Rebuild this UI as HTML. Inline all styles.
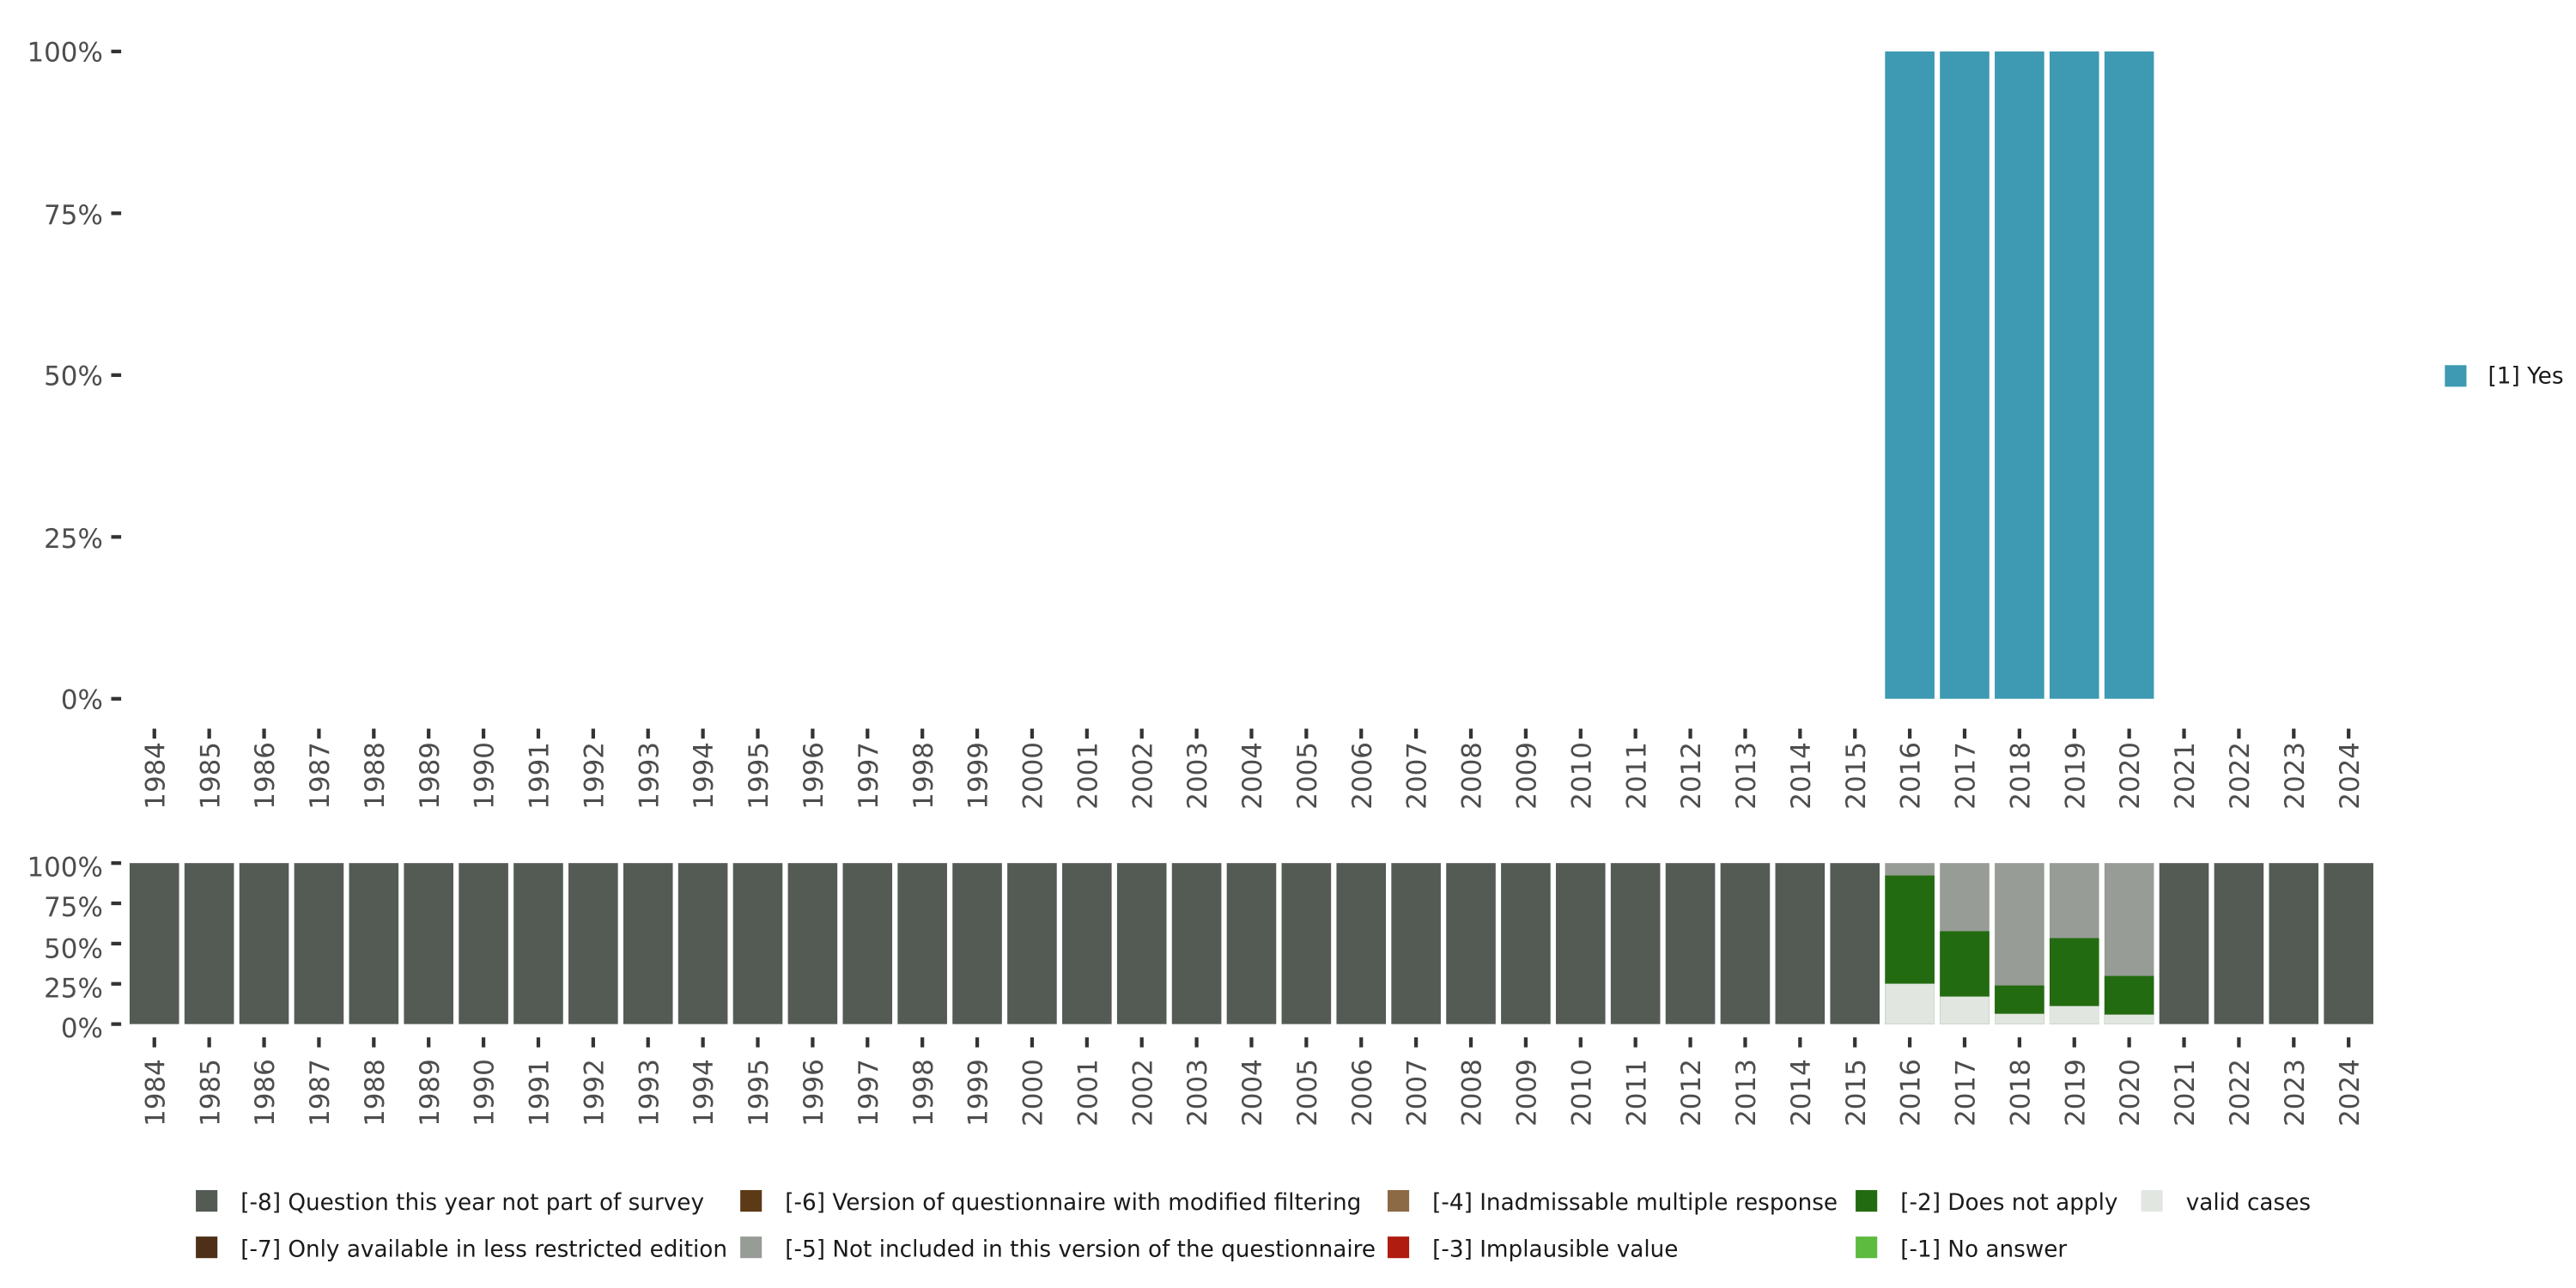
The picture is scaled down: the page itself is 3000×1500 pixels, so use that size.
<!DOCTYPE html>
<html><head><meta charset="utf-8"><style>
html,body{margin:0;padding:0;background:#fff;}
svg{display:block;}
text{font-family:"DejaVu Sans","Liberation Sans",sans-serif;fill:#4d4d4d;}
.yt{font-size:16px;text-anchor:end;}
.yr{font-size:16px;text-anchor:end;}
.lg{font-size:13.6px;fill:#1a1a1a;}
</style></head><body>
<svg id="s" width="3000" height="1500" viewBox="0 0 1552 776" xmlns="http://www.w3.org/2000/svg">
<g id="bars"></g>
<g id="ticks" stroke="#333" stroke-width="2.2"></g>
<text class="yt" x="62" y="37">100%</text>
<text class="yt" x="62" y="135">75%</text>
<text class="yt" x="62" y="232">50%</text>
<text class="yt" x="62" y="330">25%</text>
<text class="yt" x="62" y="427">0%</text>
<text class="yt" x="62" y="528">100%</text>
<text class="yt" x="62" y="552">75%</text>
<text class="yt" x="62" y="577">50%</text>
<text class="yt" x="62" y="601">25%</text>
<text class="yt" x="62" y="625">0%</text>
<g id="yrs">
<g transform="translate(93 0)"><text class="yr" transform="translate(6,447) rotate(-90)">1984</text><text class="yr" transform="translate(6,638) rotate(-90)">1984</text></g>
<g transform="translate(126.05 0)"><text class="yr" transform="translate(6,447) rotate(-90)">1985</text><text class="yr" transform="translate(6,638) rotate(-90)">1985</text></g>
<g transform="translate(159.1 0)"><text class="yr" transform="translate(6,447) rotate(-90)">1986</text><text class="yr" transform="translate(6,638) rotate(-90)">1986</text></g>
<g transform="translate(192.15 0)"><text class="yr" transform="translate(6,447) rotate(-90)">1987</text><text class="yr" transform="translate(6,638) rotate(-90)">1987</text></g>
<g transform="translate(225.2 0)"><text class="yr" transform="translate(6,447) rotate(-90)">1988</text><text class="yr" transform="translate(6,638) rotate(-90)">1988</text></g>
<g transform="translate(258.25 0)"><text class="yr" transform="translate(6,447) rotate(-90)">1989</text><text class="yr" transform="translate(6,638) rotate(-90)">1989</text></g>
<g transform="translate(291.3 0)"><text class="yr" transform="translate(6,447) rotate(-90)">1990</text><text class="yr" transform="translate(6,638) rotate(-90)">1990</text></g>
<g transform="translate(324.35 0)"><text class="yr" transform="translate(6,447) rotate(-90)">1991</text><text class="yr" transform="translate(6,638) rotate(-90)">1991</text></g>
<g transform="translate(357.4 0)"><text class="yr" transform="translate(6,447) rotate(-90)">1992</text><text class="yr" transform="translate(6,638) rotate(-90)">1992</text></g>
<g transform="translate(390.45 0)"><text class="yr" transform="translate(6,447) rotate(-90)">1993</text><text class="yr" transform="translate(6,638) rotate(-90)">1993</text></g>
<g transform="translate(423.5 0)"><text class="yr" transform="translate(6,447) rotate(-90)">1994</text><text class="yr" transform="translate(6,638) rotate(-90)">1994</text></g>
<g transform="translate(456.55 0)"><text class="yr" transform="translate(6,447) rotate(-90)">1995</text><text class="yr" transform="translate(6,638) rotate(-90)">1995</text></g>
<g transform="translate(489.6 0)"><text class="yr" transform="translate(6,447) rotate(-90)">1996</text><text class="yr" transform="translate(6,638) rotate(-90)">1996</text></g>
<g transform="translate(522.65 0)"><text class="yr" transform="translate(6,447) rotate(-90)">1997</text><text class="yr" transform="translate(6,638) rotate(-90)">1997</text></g>
<g transform="translate(555.7 0)"><text class="yr" transform="translate(6,447) rotate(-90)">1998</text><text class="yr" transform="translate(6,638) rotate(-90)">1998</text></g>
<g transform="translate(588.75 0)"><text class="yr" transform="translate(6,447) rotate(-90)">1999</text><text class="yr" transform="translate(6,638) rotate(-90)">1999</text></g>
<g transform="translate(621.8 0)"><text class="yr" transform="translate(6,447) rotate(-90)">2000</text><text class="yr" transform="translate(6,638) rotate(-90)">2000</text></g>
<g transform="translate(654.85 0)"><text class="yr" transform="translate(6,447) rotate(-90)">2001</text><text class="yr" transform="translate(6,638) rotate(-90)">2001</text></g>
<g transform="translate(687.9 0)"><text class="yr" transform="translate(6,447) rotate(-90)">2002</text><text class="yr" transform="translate(6,638) rotate(-90)">2002</text></g>
<g transform="translate(720.95 0)"><text class="yr" transform="translate(6,447) rotate(-90)">2003</text><text class="yr" transform="translate(6,638) rotate(-90)">2003</text></g>
<g transform="translate(754 0)"><text class="yr" transform="translate(6,447) rotate(-90)">2004</text><text class="yr" transform="translate(6,638) rotate(-90)">2004</text></g>
<g transform="translate(787.05 0)"><text class="yr" transform="translate(6,447) rotate(-90)">2005</text><text class="yr" transform="translate(6,638) rotate(-90)">2005</text></g>
<g transform="translate(820.1 0)"><text class="yr" transform="translate(6,447) rotate(-90)">2006</text><text class="yr" transform="translate(6,638) rotate(-90)">2006</text></g>
<g transform="translate(853.15 0)"><text class="yr" transform="translate(6,447) rotate(-90)">2007</text><text class="yr" transform="translate(6,638) rotate(-90)">2007</text></g>
<g transform="translate(886.2 0)"><text class="yr" transform="translate(6,447) rotate(-90)">2008</text><text class="yr" transform="translate(6,638) rotate(-90)">2008</text></g>
<g transform="translate(919.25 0)"><text class="yr" transform="translate(6,447) rotate(-90)">2009</text><text class="yr" transform="translate(6,638) rotate(-90)">2009</text></g>
<g transform="translate(952.3 0)"><text class="yr" transform="translate(6,447) rotate(-90)">2010</text><text class="yr" transform="translate(6,638) rotate(-90)">2010</text></g>
<g transform="translate(985.35 0)"><text class="yr" transform="translate(6,447) rotate(-90)">2011</text><text class="yr" transform="translate(6,638) rotate(-90)">2011</text></g>
<g transform="translate(1018.4 0)"><text class="yr" transform="translate(6,447) rotate(-90)">2012</text><text class="yr" transform="translate(6,638) rotate(-90)">2012</text></g>
<g transform="translate(1051.45 0)"><text class="yr" transform="translate(6,447) rotate(-90)">2013</text><text class="yr" transform="translate(6,638) rotate(-90)">2013</text></g>
<g transform="translate(1084.5 0)"><text class="yr" transform="translate(6,447) rotate(-90)">2014</text><text class="yr" transform="translate(6,638) rotate(-90)">2014</text></g>
<g transform="translate(1117.55 0)"><text class="yr" transform="translate(6,447) rotate(-90)">2015</text><text class="yr" transform="translate(6,638) rotate(-90)">2015</text></g>
<g transform="translate(1150.6 0)"><text class="yr" transform="translate(6,447) rotate(-90)">2016</text><text class="yr" transform="translate(6,638) rotate(-90)">2016</text></g>
<g transform="translate(1183.65 0)"><text class="yr" transform="translate(6,447) rotate(-90)">2017</text><text class="yr" transform="translate(6,638) rotate(-90)">2017</text></g>
<g transform="translate(1216.7 0)"><text class="yr" transform="translate(6,447) rotate(-90)">2018</text><text class="yr" transform="translate(6,638) rotate(-90)">2018</text></g>
<g transform="translate(1249.75 0)"><text class="yr" transform="translate(6,447) rotate(-90)">2019</text><text class="yr" transform="translate(6,638) rotate(-90)">2019</text></g>
<g transform="translate(1282.8 0)"><text class="yr" transform="translate(6,447) rotate(-90)">2020</text><text class="yr" transform="translate(6,638) rotate(-90)">2020</text></g>
<g transform="translate(1315.85 0)"><text class="yr" transform="translate(6,447) rotate(-90)">2021</text><text class="yr" transform="translate(6,638) rotate(-90)">2021</text></g>
<g transform="translate(1348.9 0)"><text class="yr" transform="translate(6,447) rotate(-90)">2022</text><text class="yr" transform="translate(6,638) rotate(-90)">2022</text></g>
<g transform="translate(1381.95 0)"><text class="yr" transform="translate(6,447) rotate(-90)">2023</text><text class="yr" transform="translate(6,638) rotate(-90)">2023</text></g>
<g transform="translate(1415 0)"><text class="yr" transform="translate(6,447) rotate(-90)">2024</text><text class="yr" transform="translate(6,638) rotate(-90)">2024</text></g>
</g>
<rect x="1473" y="220" width="13" height="13" fill="#3d9ab2"/>
<text class="lg" x="1499" y="231">[1] Yes</text>
<rect x="118" y="717" width="13" height="13" fill="#545b55"/>
<text class="lg" x="145" y="729">[-8] Question this year not part of survey</text>
<rect x="118" y="745" width="13" height="13" fill="#4d3017"/>
<text class="lg" x="145" y="757">[-7] Only available in less restricted edition</text>
<rect x="446" y="717" width="13" height="13" fill="#5c3a17"/>
<text class="lg" x="473" y="729">[-6] Version of questionnaire with modified filtering</text>
<rect x="446" y="745" width="13" height="13" fill="#979c96"/>
<text class="lg" x="473" y="757">[-5] Not included in this version of the questionnaire</text>
<rect x="836" y="717" width="13" height="13" fill="#8c6a45"/>
<text class="lg" x="863" y="729">[-4] Inadmissable multiple response</text>
<rect x="836" y="745" width="13" height="13" fill="#b01c10"/>
<text class="lg" x="863" y="757">[-3] Implausible value</text>
<rect x="1118" y="717" width="13" height="13" fill="#236b10"/>
<text class="lg" x="1145" y="729">[-2] Does not apply</text>
<rect x="1118" y="745" width="13" height="13" fill="#5dbb40"/>
<text class="lg" x="1145" y="757">[-1] No answer</text>
<rect x="1290" y="717" width="13" height="13" fill="#e1e6e1"/>
<text class="lg" x="1317" y="729">valid cases</text>
</svg>
<script>
(function(){
var NS="http://www.w3.org/2000/svg",b=document.getElementById("bars"),t=document.getElementById("ticks");
function r(x,y,w,h,f){var e=document.createElementNS(NS,"rect");e.setAttribute("x",x);e.setAttribute("y",y);e.setAttribute("width",w);e.setAttribute("height",h);e.setAttribute("fill",f);b.appendChild(e);}
function l(x1,y1,x2,y2){var e=document.createElementNS(NS,"line");e.setAttribute("x1",x1);e.setAttribute("y1",y1);e.setAttribute("x2",x2);e.setAttribute("y2",y2);t.appendChild(e);}
var W=29.8,T0=31,T1=421,B0=520,B1=617;
var spec={32:[0.251,0.923],33:[0.171,0.577],34:[0.064,0.240],35:[0.112,0.534],36:[0.059,0.299]};
for(var i=0;i<=40;i++){
 var c=93+33.05*i,x=c-W/2;
 if(spec[i]){
  r(x,T0,W,T1-T0,"#3d9ab2");
  var H=B1-B0,v=spec[i][0],g=spec[i][1];
  r(x,B0,W,H,"#979c96");
  r(x,B1-g*H,W,g*H,"#236b10");
  r(x,B1-v*H,W,v*H,"#e1e6e1");
 } else r(x,B0,W,B1-B0,"#545b55");
 l(c,439,c,445);l(c,625,c,631);
}
[31,128.5,226,323.5,421].forEach(function(y){l(67,y,73,y);});
[0,1,2,3,4].forEach(function(k){var y=B0+k*(B1-B0)/4;l(67,y,73,y);});
})();
</script>
</body></html>
